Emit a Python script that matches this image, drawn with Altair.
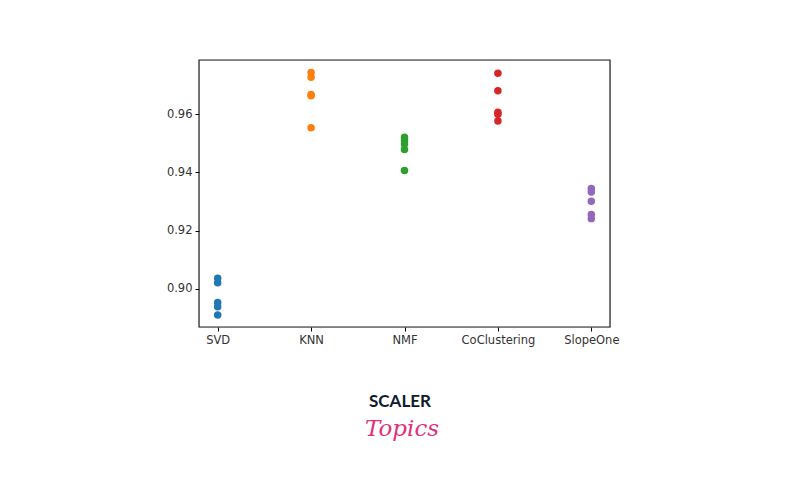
import altair as alt
import pandas as pd

algorithms = ["SVD", "KNN", "NMF", "CoClustering", "SlopeOne"]
svd = [0.9036, 0.9020, 0.8952, 0.8938, 0.8909]
knn = [0.9744, 0.9728, 0.9668, 0.9664, 0.9554]
nmf = [0.9521, 0.9509, 0.9498, 0.9479, 0.9407]
cocl = [0.9741, 0.9681, 0.9607, 0.9600, 0.9577]
slope = [0.9345, 0.9333, 0.9301, 0.9255, 0.9241]
colors = ["#1f77b4", "#ff7f0e", "#2ca02c", "#d62728", "#9467bd"]
y_ticks = [0.90, 0.92, 0.94, 0.96]

rows = []
for name, vals in zip(algorithms, [svd, knn, nmf, cocl, slope]):
    for v in vals:
        rows.append({"algo": name, "rmse": v})
df = pd.DataFrame(rows)

W, H = 411, 267

points = alt.Chart(df).mark_circle(size=56, opacity=1).encode(
    x=alt.X("algo:N", sort=algorithms, title=None,
            scale=alt.Scale(type="point", padding=0.2),
            axis=alt.Axis(labelAngle=0, domain=False, ticks=True, tickSize=4,
                          tickColor="#000000", labelColor="#333333",
                          labelFont="DejaVu Sans", labelFontSize=11.5,
                          labelPadding=3, grid=False)),
    y=alt.Y("rmse:Q", title=None,
            scale=alt.Scale(domain=[0.8868, 0.9787], nice=False, zero=False),
            axis=alt.Axis(values=y_ticks, format=".2f", domain=False, tickSize=4,
                          tickColor="#000000", labelColor="#333333",
                          labelFont="DejaVu Sans", labelFontSize=11.5,
                          labelPadding=3, grid=False)),
    color=alt.Color("algo:N", sort=algorithms,
                    scale=alt.Scale(domain=algorithms, range=colors), legend=None),
)

frame = alt.Chart(pd.DataFrame({"a": [0]})).mark_rect(
    fill=None, stroke="#222222", strokeWidth=1.2
).encode(x=alt.value(0), x2=alt.value(W), y=alt.value(0), y2=alt.value(H))

logo1 = alt.Chart(pd.DataFrame({"t": ["SCALER"]})).mark_text(
    font="Lato", fontWeight="bold", fontSize=17, color="#0f1b2d",
    align="center", baseline="alphabetic"
).encode(x=alt.value(201), y=alt.value(347), text="t:N")

logo2 = alt.Chart(pd.DataFrame({"t": ["Topics"]})).mark_text(
    font="DejaVu Serif", fontStyle="italic", fontSize=23, color="#e0317a",
    align="center", baseline="alphabetic"
).encode(x=alt.value(203), y=alt.value(376), text="t:N")

chart = alt.layer(frame, points, logo1, logo2).properties(
    width=W, height=H,
    autosize=alt.AutoSizeParams(type="none"),
    padding={"left": 191, "top": 52, "right": 182, "bottom": 161},
).configure_view(stroke=None).configure(background="white")

chart.save("out.html", embed_options={"renderer": "svg", "actions": False})
